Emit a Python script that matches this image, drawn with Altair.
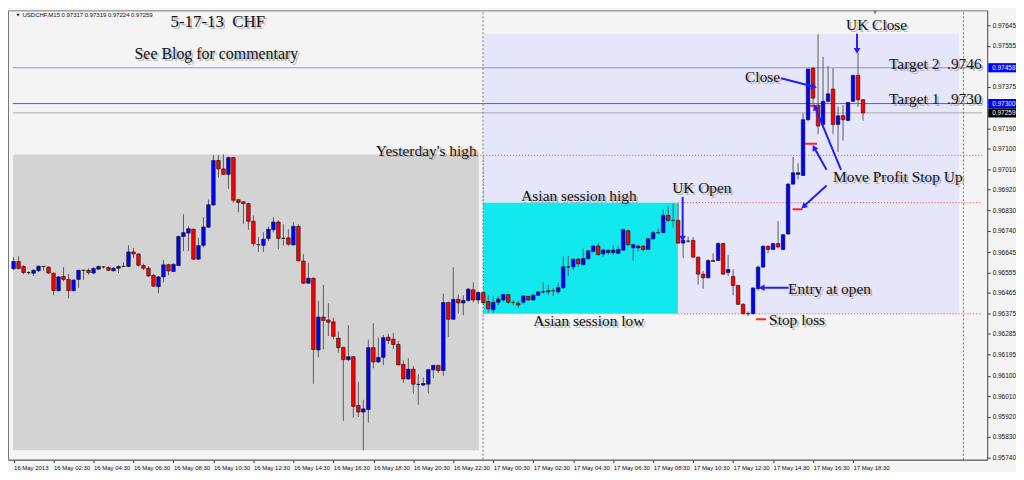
import math
import json
import altair as alt
import pandas as pd

# ---------------- data (USDCHF M15, bar 0 = 16 May 00:30) -------------
opens = [
    0.96572, 0.96604, 0.96582, 0.96555, 0.96552, 0.96563, 0.96582, 0.96579, 0.96552, 0.96475,
    0.96538, 0.96525, 0.96475, 0.96525, 0.96565, 0.96565, 0.96553, 0.96570, 0.96580, 0.96577,
    0.96563, 0.96574, 0.96582, 0.96582, 0.96646, 0.96637, 0.96586, 0.96574, 0.96543, 0.96493,
    0.96536, 0.96590, 0.96560, 0.96586, 0.96714, 0.96729, 0.96746, 0.96614, 0.96675, 0.96755,
    0.96853, 0.97049, 0.97012, 0.96988, 0.97062, 0.96876, 0.96867, 0.96859, 0.96781, 0.96678,
    0.96675, 0.96705, 0.96744, 0.96778, 0.96706, 0.96708, 0.96677, 0.96759, 0.96606, 0.96508,
    0.96530, 0.96214, 0.96359, 0.96346, 0.96338, 0.96266, 0.96225, 0.96171, 0.96184, 0.95969,
    0.95940, 0.95951, 0.96224, 0.96161, 0.96181, 0.96270, 0.96261, 0.96238, 0.96150, 0.96086,
    0.96129, 0.96062, 0.96059, 0.96063, 0.96126, 0.96146, 0.96123, 0.96423, 0.96349, 0.96437,
    0.96421, 0.96432, 0.96479, 0.96434, 0.96467, 0.96427, 0.96391, 0.96424, 0.96434, 0.96458,
    0.96423, 0.96420, 0.96424, 0.96450, 0.96434, 0.96455, 0.96470, 0.96470, 0.96475, 0.96470,
    0.96488, 0.96580, 0.96580, 0.96614, 0.96590, 0.96616, 0.96648, 0.96672, 0.96637, 0.96643,
    0.96643, 0.96640, 0.96654, 0.96739, 0.96664, 0.96664, 0.96671, 0.96657, 0.96704, 0.96731,
    0.96731, 0.96807, 0.96785, 0.96785, 0.96685, 0.96694, 0.96697, 0.96623, 0.96548, 0.96532,
    0.96608, 0.96608, 0.96683, 0.96555, 0.96538, 0.96498, 0.96415, 0.96374, 0.96374, 0.96484,
    0.96579, 0.96671, 0.96657, 0.96683, 0.96657, 0.96725, 0.96945, 0.96988, 0.96983, 0.97229,
    0.97456, 0.97293, 0.97208, 0.97310, 0.97364, 0.97208, 0.97247, 0.97226, 0.97310, 0.97424,
    0.97317,
]
highs = [
    0.96623, 0.96626, 0.96587, 0.96560, 0.96570, 0.96586, 0.96583, 0.96582, 0.96555, 0.96539,
    0.96579, 0.96549, 0.96525, 0.96567, 0.96569, 0.96573, 0.96579, 0.96586, 0.96582, 0.96583,
    0.96579, 0.96586, 0.96600, 0.96675, 0.96663, 0.96640, 0.96594, 0.96583, 0.96548, 0.96539,
    0.96611, 0.96594, 0.96596, 0.96718, 0.96812, 0.96759, 0.96749, 0.96708, 0.96799, 0.96877,
    0.97073, 0.97073, 0.97076, 0.97066, 0.97066, 0.96881, 0.96870, 0.96863, 0.96807, 0.96711,
    0.96732, 0.96758, 0.96799, 0.96785, 0.96768, 0.96746, 0.96778, 0.96768, 0.96636, 0.96597,
    0.96533, 0.96431, 0.96501, 0.96420, 0.96356, 0.96295, 0.96228, 0.96323, 0.96187, 0.96072,
    0.95994, 0.96259, 0.96332, 0.96269, 0.96280, 0.96285, 0.96289, 0.96254, 0.96168, 0.96177,
    0.96143, 0.96107, 0.96092, 0.96129, 0.96148, 0.96148, 0.96462, 0.96427, 0.96579, 0.96458,
    0.96455, 0.96487, 0.96512, 0.96472, 0.96472, 0.96455, 0.96452, 0.96452, 0.96461, 0.96461,
    0.96434, 0.96430, 0.96455, 0.96452, 0.96461, 0.96472, 0.96512, 0.96501, 0.96487, 0.96508,
    0.96626, 0.96628, 0.96617, 0.96619, 0.96660, 0.96654, 0.96677, 0.96685, 0.96661, 0.96657,
    0.96675, 0.96672, 0.96748, 0.96744, 0.96683, 0.96678, 0.96675, 0.96708, 0.96739, 0.96749,
    0.96832, 0.96846, 0.96860, 0.96860, 0.96711, 0.96714, 0.96711, 0.96626, 0.96562, 0.96614,
    0.96640, 0.96689, 0.96685, 0.96633, 0.96569, 0.96501, 0.96420, 0.96384, 0.96491, 0.96586,
    0.96675, 0.96675, 0.96685, 0.96782, 0.96725, 0.96949, 0.97066, 0.97037, 0.97258, 0.97456,
    0.97460, 0.97605, 0.97506, 0.97466, 0.97456, 0.97286, 0.97293, 0.97307, 0.97428, 0.97523,
    0.97319,
]
lows = [
    0.96566, 0.96569, 0.96548, 0.96546, 0.96540, 0.96557, 0.96563, 0.96549, 0.96455, 0.96472,
    0.96516, 0.96441, 0.96472, 0.96488, 0.96523, 0.96546, 0.96548, 0.96566, 0.96573, 0.96562,
    0.96560, 0.96553, 0.96579, 0.96579, 0.96619, 0.96582, 0.96566, 0.96536, 0.96492, 0.96464,
    0.96512, 0.96543, 0.96557, 0.96583, 0.96650, 0.96650, 0.96611, 0.96611, 0.96666, 0.96751,
    0.96849, 0.96974, 0.96985, 0.96924, 0.96863, 0.96821, 0.96770, 0.96744, 0.96671, 0.96646,
    0.96646, 0.96694, 0.96732, 0.96658, 0.96674, 0.96674, 0.96674, 0.96604, 0.96505, 0.96505,
    0.96065, 0.96182, 0.96216, 0.96275, 0.96261, 0.96202, 0.95901, 0.96164, 0.95916, 0.95918,
    0.95771, 0.95893, 0.96133, 0.96157, 0.96147, 0.96240, 0.96218, 0.96147, 0.96069, 0.96082,
    0.96021, 0.95972, 0.96055, 0.96022, 0.96089, 0.96112, 0.96100, 0.96271, 0.96346, 0.96374,
    0.96367, 0.96427, 0.96424, 0.96417, 0.96412, 0.96377, 0.96377, 0.96412, 0.96427, 0.96418,
    0.96412, 0.96398, 0.96415, 0.96430, 0.96431, 0.96452, 0.96462, 0.96458, 0.96452, 0.96462,
    0.96484, 0.96540, 0.96566, 0.96580, 0.96587, 0.96611, 0.96643, 0.96631, 0.96623, 0.96633,
    0.96633, 0.96637, 0.96651, 0.96672, 0.96608, 0.96647, 0.96648, 0.96654, 0.96700, 0.96725,
    0.96728, 0.96779, 0.96753, 0.96683, 0.96619, 0.96685, 0.96619, 0.96502, 0.96484, 0.96529,
    0.96603, 0.96606, 0.96545, 0.96540, 0.96455, 0.96412, 0.96370, 0.96363, 0.96370, 0.96476,
    0.96576, 0.96640, 0.96654, 0.96661, 0.96654, 0.96722, 0.96942, 0.96966, 0.96981, 0.97222,
    0.97286, 0.97165, 0.97194, 0.97305, 0.97165, 0.97087, 0.97137, 0.97222, 0.97307, 0.97286,
    0.97224,
]
closes = [
    0.96604, 0.96573, 0.96555, 0.96555, 0.96565, 0.96583, 0.96582, 0.96553, 0.96476, 0.96536,
    0.96525, 0.96475, 0.96522, 0.96565, 0.96565, 0.96555, 0.96573, 0.96582, 0.96580, 0.96565,
    0.96574, 0.96582, 0.96582, 0.96646, 0.96637, 0.96587, 0.96574, 0.96540, 0.96495, 0.96536,
    0.96589, 0.96562, 0.96591, 0.96714, 0.96731, 0.96748, 0.96614, 0.96674, 0.96756, 0.96854,
    0.97049, 0.97012, 0.96988, 0.97062, 0.96874, 0.96864, 0.96859, 0.96781, 0.96683, 0.96678,
    0.96702, 0.96746, 0.96778, 0.96705, 0.96706, 0.96680, 0.96759, 0.96607, 0.96508, 0.96530,
    0.96216, 0.96359, 0.96344, 0.96336, 0.96274, 0.96224, 0.96171, 0.96184, 0.95965, 0.95940,
    0.95954, 0.96224, 0.96161, 0.96181, 0.96268, 0.96255, 0.96238, 0.96148, 0.96086, 0.96129,
    0.96063, 0.96062, 0.96066, 0.96127, 0.96146, 0.96123, 0.96423, 0.96349, 0.96437, 0.96421,
    0.96432, 0.96482, 0.96434, 0.96467, 0.96423, 0.96395, 0.96424, 0.96438, 0.96458, 0.96424,
    0.96423, 0.96412, 0.96452, 0.96434, 0.96455, 0.96470, 0.96470, 0.96475, 0.96475, 0.96488,
    0.96580, 0.96580, 0.96614, 0.96594, 0.96617, 0.96651, 0.96672, 0.96634, 0.96654, 0.96654,
    0.96654, 0.96657, 0.96744, 0.96678, 0.96678, 0.96672, 0.96657, 0.96704, 0.96731, 0.96731,
    0.96807, 0.96785, 0.96785, 0.96685, 0.96697, 0.96694, 0.96623, 0.96548, 0.96532, 0.96608,
    0.96604, 0.96683, 0.96548, 0.96569, 0.96498, 0.96415, 0.96374, 0.96374, 0.96487, 0.96579,
    0.96671, 0.96657, 0.96683, 0.96668, 0.96722, 0.96945, 0.96995, 0.96995, 0.97229, 0.97452,
    0.97324, 0.97201, 0.97310, 0.97343, 0.97208, 0.97246, 0.97229, 0.97305, 0.97424, 0.97317,
    0.97259,
]

symbol = "USDCHF,M15"
x_tick_bars = list(range(0, 169, 8))
x_tick_labels = [
    "16 May 2013", "16 May 02:30", "16 May 04:30", "16 May 06:30", "16 May 08:30",
    "16 May 10:30", "16 May 12:30", "16 May 14:30", "16 May 16:30", "16 May 18:30",
    "16 May 20:30", "16 May 22:30", "17 May 00:30", "17 May 02:30", "17 May 04:30",
    "17 May 06:30", "17 May 08:30", "17 May 10:30", "17 May 12:30", "17 May 14:30",
    "17 May 16:30", "17 May 18:30",
]
y_tick_values = [
    0.97645, 0.97555, 0.97375, 0.97190, 0.97100, 0.97010, 0.96920, 0.96830, 0.96740,
    0.96645, 0.96555, 0.96465, 0.96375, 0.96285, 0.96195, 0.96100, 0.96010, 0.95920,
    0.95830, 0.95740,
]

# key levels
yesterday_high = 0.97072
prev_day_low = 0.95772
asian_high = 0.96863
asian_low = 0.96373
today_high = 0.97608
target_2 = 0.97458
target_1 = 0.97300
last_price = 0.97259

# session boxes (bar index range, price range)
box_kind = ["prev", "today", "asian"]
box_x1 = [-0.12, 94.05, 94.05]
box_x2 = [93.1, 189.2, 132.95]
box_lo = [prev_day_low, asian_low, asian_low]
box_hi = [0.97076, today_high, asian_high]

# red stop markers
stop_x1 = [148.6, 155.9, 158.4, 159.4]
stop_x2 = [150.6, 157.9, 160.8, 161.0]
stop_p = [0.96349, 0.96834, 0.97123, 0.97290]

# arrows (from -> to) in bar index / price
arr_x1 = [133.9, 168.8, 153.6, 165.6, 162.7, 162.7, 155.1]
arr_p1 = [0.96888, 0.97608, 0.97412, 0.97008, 0.97008, 0.96939, 0.96488]
arr_x2 = [133.9, 168.8, 160.2, 160.4, 160.2, 158.1, 149.7]
arr_p2 = [0.96705, 0.97532, 0.97374, 0.97284, 0.97106, 0.96846, 0.96488]

# annotations
NB = "\u00a0"
note_text = ["5-17-13" + NB + NB + "CHF", "See Blog for commentary", "Yesterday's high",
             "Asian session high", "Asian session low", "UK Open", "UK Close",
             "Target 2" + NB + NB + ".9746", "Target 1" + NB + NB + ".9730", "Close",
             "Move Profit Stop Up", "Entry at open", "Stop loss"]
note_x = [31.4, 24.2, 72.5, 101.6, 104.0, 131.8, 166.6, 175.2, 175.2, 146.4, 164.0, 155.0, 151.2]
note_p = [0.97659, 0.97519, 0.97093, 0.96893, 0.96343, 0.96927, 0.97647, 0.97476, 0.97319,
          0.97417, 0.96978, 0.96484, 0.96347]
note_fs = [17, 16, 15.5, 15.5, 15.5, 15.5, 15.5, 15.5, 15.5, 15.5, 15.5, 15.5, 15.5]

# ---------------- layout ----------------
W, H = 985, 452
X0, X1 = -0.12, 193.85
Y0, Y1 = 0.95730, 0.97711
sx = W / (X1 - X0)
sy = H / (Y1 - Y0)

xs = alt.Scale(domain=[X0, X1], nice=False, zero=False)
ys = alt.Scale(domain=[Y0, Y1], nice=False, zero=False)

label_expr = json.dumps(x_tick_labels) + "[round(datum.value / 8)]"
xaxis = alt.Axis(values=x_tick_bars, labelExpr=label_expr, title=None, grid=False,
                 tickSize=3, tickColor="#333", domainColor="#666", labelAlign="left",
                 labelFontSize=6, labelFont="Liberation Sans Narrow, Liberation Sans",
                 labelColor="#111", labelPadding=2, labelOverlap=False, labelFlush=False,
                 labelBound=False, zindex=1)
yaxis = alt.Axis(orient="right", values=y_tick_values, format=".5f", title=None, grid=False,
                 tickSize=3, tickColor="#333", domainColor="#666", labelFontSize=6.5,
                 labelFont="Liberation Sans", labelColor="#111", labelPadding=2,
                 labelOverlap=False, labelBaseline="middle", zindex=1)


def X(f):
    return alt.X(f, type="quantitative", scale=xs, axis=xaxis, title=None)


def Y(f):
    return alt.Y(f, type="quantitative", scale=ys, axis=yaxis, title=None)


df = pd.DataFrame({"i": list(range(len(opens))), "o": opens, "h": highs, "l": lows, "c": closes})
up = df[df.c > df.o]
down = df[df.c < df.o]
flat = df[df.c == df.o]

boxes = pd.DataFrame({"kind": box_kind, "x1": box_x1, "x2": box_x2, "lo": box_lo, "hi": box_hi})
layers = []
for k, col in zip(box_kind, ["#D3D3D3", "#E6E6FA", "#12E9EE"]):
    layers.append(
        alt.Chart(boxes[boxes.kind == k]).mark_rect(color=col, opacity=1).encode(
            x=X("x1"), x2=alt.X2("x2"), y=Y("lo"), y2=alt.Y2("hi"))
    )

# full-width horizontal lines
for lvl, col in [(target_2, "#8C8CF2"), (target_1, "#5555E8"), (last_price, "#A8A8A8")]:
    layers.append(
        alt.Chart(pd.DataFrame({"p": [lvl], "x1": [X0], "x2": [X1]})).mark_rule(
            strokeWidth=1, color=col).encode(x=X("x1"), x2=alt.X2("x2"), y=Y("p"))
    )

# red dotted levels
rl = pd.DataFrame({"p": [yesterday_high, asian_high, asian_low],
                   "x1": [92.8, 133.0, 133.0], "x2": [X1, X1, X1]})
layers.append(
    alt.Chart(rl).mark_rule(color="#F03C3C", strokeWidth=1, strokeDash=[1, 2]).encode(
        x=X("x1"), x2=alt.X2("x2"), y=Y("p"))
)
rv = pd.DataFrame({"x": [94.05], "lo": [asian_low], "hi": [yesterday_high]})
layers.append(
    alt.Chart(rv).mark_rule(color="#F03C3C", strokeWidth=1, strokeDash=[1, 2]).encode(
        x=X("x"), y=Y("lo"), y2=alt.Y2("hi"))
)
# gray dotted separators
gv = pd.DataFrame({"x": [93.95, 190.1], "lo": [Y0, Y0], "hi": [Y1, Y1]})
layers.append(
    alt.Chart(gv).mark_rule(color="#777", strokeWidth=1, strokeDash=[2, 2]).encode(
        x=X("x"), y=Y("lo"), y2=alt.Y2("hi"))
)

# candles
layers.append(
    alt.Chart(df).mark_rule(color="#5c5c5c", strokeWidth=1).encode(
        x=X("i"), y=Y("l"), y2=alt.Y2("h"))
)
for part, col in [(up, "#0000FF"), (down, "#FF0000"), (flat, "#000000")]:
    layers.append(
        alt.Chart(part).mark_bar(size=3.6, color=col, stroke="#111", strokeWidth=0.6,
                                 opacity=1).encode(x=X("i"), y=Y("o"), y2=alt.Y2("c"))
    )

# red stop markers
sm = pd.DataFrame({"x1": stop_x1, "x2": stop_x2, "p": stop_p})
layers.append(
    alt.Chart(sm).mark_rule(color="#FF2020", strokeWidth=2).encode(
        x=X("x1"), x2=alt.X2("x2"), y=Y("p"))
)

# arrows
ar = pd.DataFrame({"x1": arr_x1, "p1": arr_p1, "x2": arr_x2, "p2": arr_p2})
angs = []
for a, b, c, d in zip(arr_x1, arr_p1, arr_x2, arr_p2):
    dxp = (c - a) * sx
    dyp = -(d - b) * sy
    angs.append(math.degrees(math.atan2(dxp, -dyp)) % 360)
ar["ang"] = angs
layers.append(
    alt.Chart(ar).mark_rule(color="#1E1EFF", strokeWidth=2).encode(
        x=X("x1"), x2=alt.X2("x2"), y=Y("p1"), y2=alt.Y2("p2"))
)
layers.append(
    alt.Chart(ar).mark_point(shape="triangle-up", filled=True, size=45, color="#1E1EFF",
                             opacity=1).encode(
        x=X("x2"), y=Y("p2"), angle=alt.Angle("ang:Q", scale=None))
)

# annotation text with soft shadow
notes = pd.DataFrame({"t": note_text, "x": note_x, "p": note_p, "fs": note_fs})
layers.append(
    alt.Chart(notes).mark_text(align="left", baseline="middle", font="Liberation Serif",
                               color="#888", opacity=0.55, dx=2, dy=2).encode(
        x=X("x"), y=Y("p"), text="t:N", size=alt.Size("fs:Q", scale=None))
)
layers.append(
    alt.Chart(notes).mark_text(align="left", baseline="middle", font="Liberation Serif",
                               color="#111").encode(
        x=X("x"), y=Y("p"), text="t:N", size=alt.Size("fs:Q", scale=None))
)

# highlighted price labels on the right axis
half = 4.6 / sy
for lvl, col in [(target_2, "#0000FF"), (target_1, "#0000FF"), (last_price, "#000000")]:
    pl = pd.DataFrame({"p": [lvl], "lo": [lvl - half], "hi": [lvl + half],
                       "txt": [f"{lvl:.5f}"]})
    layers.append(
        alt.Chart(pl).mark_rect(color=col, opacity=1).encode(
            x=alt.value(W + 1), x2=alt.value(W + 29), y=Y("lo"), y2=alt.Y2("hi"))
    )
    layers.append(
        alt.Chart(pl).mark_text(align="left", baseline="middle", color="white", fontSize=6.5,
                                font="Liberation Sans").encode(
            x=alt.value(W + 5), y=Y("p"), text="txt:N")
    )

# header
hd = pd.DataFrame({"x": [0.9], "tx": [1.8], "p": [0.97690],
                   "t": [f"{symbol}  {opens[-1]:.5f} {highs[-1]:.5f} {lows[-1]:.5f} {closes[-1]:.5f}"]})
layers.append(
    alt.Chart(hd).mark_point(shape="triangle-down", filled=True, size=10, color="#222",
                             opacity=1).encode(x=X("x"), y=Y("p"))
)
layers.append(
    alt.Chart(hd).mark_text(align="left", baseline="middle", fontSize=6, color="#111",
                            font="Liberation Sans").encode(x=X("tx"), y=Y("p"), text="t:N")
)
mk = pd.DataFrame({"x": [172.4], "p": [0.97702]})
layers.append(
    alt.Chart(mk).mark_point(shape="triangle-down", filled=True, size=22, color="#888",
                             opacity=1).encode(x=X("x"), y=Y("p"))
)

chart = alt.layer(*layers).properties(
    width=W, height=H, background="#F4F4F4",
    padding={"left": 0, "top": 0, "right": 0, "bottom": 0},
).configure_view(stroke="#777", strokeWidth=1)

chart.save("out.html", embed_options={"renderer": "svg", "actions": False})
